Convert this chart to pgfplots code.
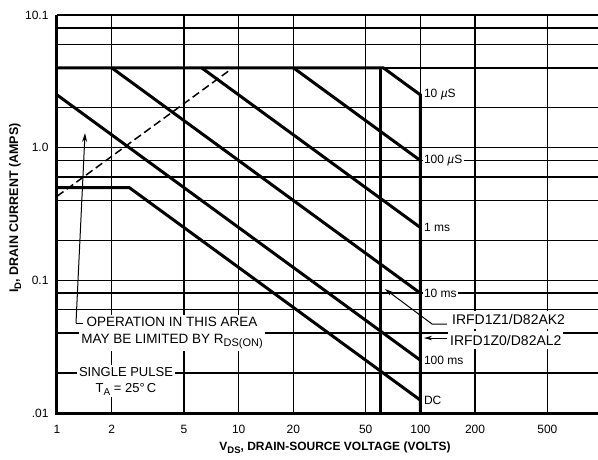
\documentclass[border=0pt]{standalone}
\usepackage{fontspec}
\setmainfont{Liberation Sans}
\usepackage{pgfplots}
\pgfplotsset{compat=1.18}
\usetikzlibrary{arrows.meta}
\begin{document}
\begin{tikzpicture}
\begin{axis}[
  xmode=log, ymode=log,
  scale only axis, width=541pt, height=398pt,
  xmin=1, xmax=950, ymin=0.01, ymax=10,
  axis line style={draw=none},
  clip=false,
  xtick={1,2,5,10,20,50,100,200,500},
  xticklabels={1,2,5,10,20,50,100,200,500},
  ytick={0.01,0.1,1,10},
  yticklabels={.01,0.1,1.0,10.1},
  minor ytick={0.02,0.04,0.06,0.08,0.2,0.4,0.6,0.8,2,4,6,8},
  xmajorgrids, ymajorgrids, yminorgrids,
  major grid style={line width=1.4pt, black},
  minor grid style={line width=1.4pt, black},
  major tick length=0pt, minor tick length=0pt,
  tick label style={font=\fontsize{12}{14}\selectfont},
  xticklabel style={yshift=-9pt},
  yticklabel style={xshift=-5pt},
  /pgf/number format/assume math mode=true,
]
% SOA boundaries
\addplot[line width=3pt] coordinates {(1,4) (62.5,4) (100,2.5) (100,0.01)};
\addplot[line width=3pt] coordinates {(60,4) (60,0.01)};
\addplot[line width=3pt] coordinates {(20,4) (100,0.8)};
\addplot[line width=3pt] coordinates {(6.25,4) (100,0.25)};
\addplot[line width=3pt] coordinates {(2,4) (100,0.08)};
\addplot[line width=3pt] coordinates {(1,2.5) (100,0.025)};
\addplot[line width=3pt] coordinates {(1,0.5) (2.5,0.5) (100,0.0125)};
\addplot[line width=1.5pt, dash pattern=on 8pt off 4pt] coordinates {(1,0.43) (9.3,4)};

% axes
\draw[line width=3pt] (rel axis cs:0,1) -- (rel axis cs:0,0) -- (rel axis cs:1,0);

% right labels
\begin{scope}[every node/.style={anchor=west, fill=white, inner sep=1.5pt, xshift=2pt, font=\fontsize{12}{12}\selectfont}]
\node at (axis cs:100,2.5) {10 {\itshape µ}S};
\node at (axis cs:100,0.8) {100 {\itshape µ}S};
\node at (axis cs:100,0.25) {1 ms};
\node at (axis cs:100,0.08) {10 ms};
\node at (axis cs:100,0.025) {100 ms};
\node at (axis cs:100,0.0125) {DC};
\end{scope}

% device labels
\node[anchor=west, fill=white, inner xsep=2pt, inner ysep=4pt, font=\fontsize{14}{14}\selectfont] at (rel axis cs:0.7264,0.2337) {IRFD1Z1/D82AK2};
\node[anchor=west, fill=white, inner xsep=2pt, inner ysep=4pt, font=\fontsize{14}{14}\selectfont] at (rel axis cs:0.7227,0.1834) {IRFD1Z0/D82AL2};
\draw[line width=1pt, -{Stealth[length=8pt,width=4.5pt]}] (rel axis cs:0.7209,0.2236) -- (rel axis cs:0.6932,0.2236) -- (rel axis cs:0.6063,0.3115);
\draw[line width=1pt, -{Stealth[length=8pt,width=4.5pt]}] (rel axis cs:0.7209,0.1884) -- (rel axis cs:0.6784,0.1884);

% operation note
\node[align=center, fill=white, inner sep=2pt, font=\fontsize{13.5}{17.5}\selectfont] at (rel axis cs:0.2126,0.201)
  {OPERATION IN THIS AREA\\MAY BE LIMITED BY R\raisebox{-3pt}{\fontsize{11}{11}\selectfont DS(ON)}};
\draw[line width=1pt, -{Stealth[length=9pt,width=5pt]}] (rel axis cs:0.0351,0.226) -- (rel axis cs:0.0518,0.7035);
\draw[line width=1pt] (rel axis cs:0.0351,0.226) -- (rel axis cs:0.048,0.226);

\node[align=center, fill=white, inner sep=2pt, font=\fontsize{13}{16}\selectfont] at (rel axis cs:0.1275,0.0804)
  {SINGLE PULSE\\T\raisebox{-3pt}{\fontsize{10}{10}\selectfont A} = 25°\,C};

% axis labels
\node[rotate=90, font=\bfseries\fontsize{12.5}{12.5}\selectfont] at (rel axis cs:-0.0776,0.515)
  {I\raisebox{-3pt}{\fontsize{9.5}{9.5}\selectfont D}, DRAIN CURRENT (AMPS)};
\node[font=\bfseries\fontsize{12}{12}\selectfont] at (rel axis cs:0.5139,-0.0879)
  {V\raisebox{-3pt}{\fontsize{9.5}{9.5}\selectfont DS}, DRAIN-SOURCE VOLTAGE (VOLTS)};
\end{axis}
\pgfresetboundingbox
\useasboundingbox (-57pt,-46pt) rectangle (541pt,413pt);
\end{tikzpicture}
\end{document}
